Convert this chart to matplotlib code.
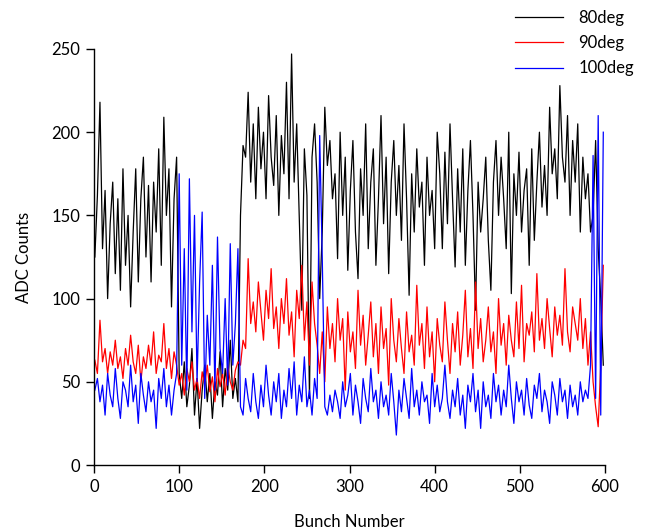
import numpy as np
import matplotlib
matplotlib.use("Agg")
import matplotlib.pyplot as plt

plt.rcParams['font.family'] = ['Lato', 'DejaVu Sans']

series_names = ["80deg", "90deg", "100deg"]
series_colors = ["black", "red", "blue"]

deg80 = [125,162,218,130,165,100,145,170,115,160,
         105,178,120,150,95,140,178,110,160,185,
         125,168,110,170,140,190,120,209,150,178,
         95,160,185,
         55,40,62,35,48,70,30,52,22,45,60,38,55,28,50,42,68,35,58,45,75,40,52,38,
         150,192,185,224,170,205,160,215,178,200,
         160,222,185,168,210,150,198,175,230,160,
         247,170,205,150,93,190,162,40,185,205,
         170,100,140,215,180,195,160,175,124,200,
         150,185,117,165,195,140,112,178,150,205,
         130,170,190,120,160,210,145,185,115,170,
         195,150,180,135,205,160,102,175,140,190,
         155,170,120,185,150,165,130,200,175,130,
         188,145,205,160,119,178,140,190,120,165,
         195,150,93,170,140,160,185,135,105,170,
         195,150,185,160,130,200,103,175,150,188,
         140,165,178,120,190,135,170,200,155,180,
         150,215,175,190,160,228,185,170,210,150,
         195,170,205,140,185,160,175,140,150,195,
         130,100,60]

deg90 = [63,55,87,62,70,55,68,60,75,58,
         65,52,70,60,78,62,55,72,50,65,
         58,72,60,80,55,66,62,85,58,70,
         52,68,60,
         48,55,42,58,50,62,45,52,40,56,48,60,44,53,38,58,47,55,42,60,50,45,57,62,
         60,75,70,124,85,98,80,110,92,75,
         105,88,118,82,95,70,100,85,112,78,
         92,65,105,88,120,75,98,60,110,85,
         72,55,80,
         50,95,70,85,62,100,75,88,45,92,
         68,80,58,105,72,90,60,78,98,65,
         85,55,95,70,82,48,100,75,62,88,
         70,55,92,68,78,60,108,72,85,58,
         95,65,80,50,88,72,62,98,75,55,
         85,68,92,60,78,105,65,82,58,110,
         70,88,62,75,95,68,80,55,100,72,
         85,60,90,75,65,98,70,108,62,85,
         78,92,68,115,75,88,70,100,82,65,
         95,78,90,72,118,80,68,95,85,75,
         100,70,88,60,80,50,35,23,60,120]

deg100 = [45,52,38,48,30,55,42,35,58,40,
          28,50,45,35,60,38,48,25,55,42,
          32,50,38,45,22,52,40,58,35,48,
          30,45,55,
          175,60,130,45,172,80,150,50,110,152,40,90,60,120,45,137,70,55,100,48,133,60,85,130,
          35,30,52,40,32,55,38,28,48,35,
          60,42,30,50,38,55,28,45,35,58,
          40,62,30,48,38,65,35,45,30,52,
          40,198,125,35,30,42,32,45,38,28,
          50,35,42,55,30,48,38,25,52,40,
          32,58,38,45,28,50,35,42,30,55,
          38,18,45,32,52,40,28,58,35,45,
          30,50,38,42,25,55,35,48,32,40,
          60,38,28,45,35,52,30,42,22,48,
          38,55,32,45,22,50,35,42,28,55,
          38,48,30,45,35,60,40,25,50,38,
          45,30,52,36,28,48,40,55,32,45,
          38,25,50,42,30,52,38,45,28,48,
          35,42,30,50,38,45,40,60,186,40,
          210,30,200]

series_values = [deg80, deg90, deg100]

x_ticks = [0, 100, 200, 300, 400, 500, 600]
y_ticks = [0, 50, 100, 150, 200, 250]

fig = plt.figure(figsize=(6.46, 5.29), dpi=100)
ax = fig.add_axes([94/646, 1-465/529, (605-94)/646, (465-49)/529])

for name, col, vals in zip(series_names, series_colors, series_values):
    x = 1 + 3*np.arange(len(vals))
    ax.plot(x, vals, color=col, lw=0.9, label=name)

ax.set_xlim(0, 600)
ax.set_ylim(0, 250)
ax.set_xticks(x_ticks)
ax.set_yticks(y_ticks)
for s in ['top', 'right']:
    ax.spines[s].set_visible(False)
for s in ['left', 'bottom']:
    ax.spines[s].set_linewidth(1.0)
ax.tick_params(direction='out', length=6, width=1, labelsize=12, pad=4)
ax.set_xlabel("Bunch Number", fontsize=12, labelpad=14)
ax.set_ylabel("ADC Counts", fontsize=12, labelpad=14)

leg = ax.legend(loc='upper left', bbox_to_anchor=(500/646, 1+5/529),
                bbox_transform=fig.transFigure, frameon=False, fontsize=12,
                handlelength=2.9, handletextpad=0.9, labelspacing=0.55)

fig.savefig("out.png", dpi=100)
